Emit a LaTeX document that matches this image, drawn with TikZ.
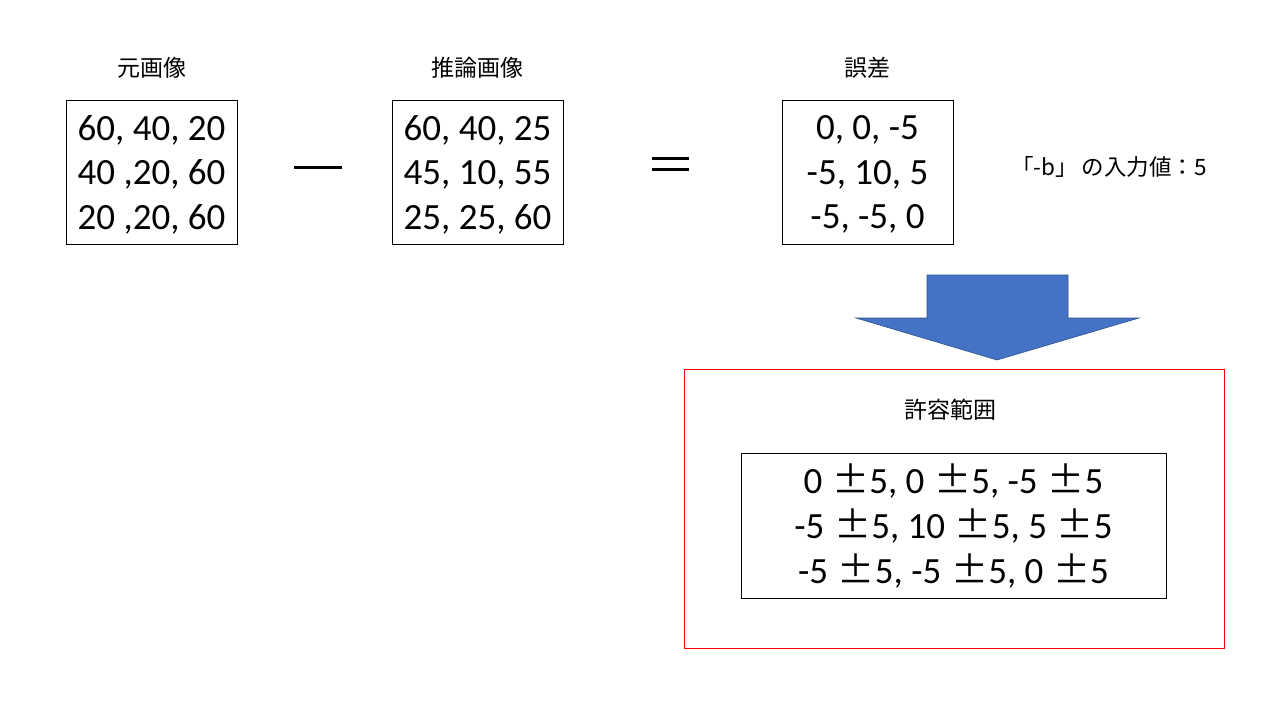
\documentclass[tikz,border=0pt]{standalone}
\usepackage{fontspec}
\setmainfont{Carlito}
\newfontfamily\jp{Noto Sans CJK JP}
\newfontfamily\jpfw[RawFeature=+fwid]{Noto Sans CJK JP}
\definecolor{arrowblue}{HTML}{4472C4}
\definecolor{arrowedge}{HTML}{2F528F}
\begin{document}
\begin{tikzpicture}[x=1pt,y=-1pt,
  matbox/.style={draw=black, line width=1pt, minimum width=171pt, minimum height=144pt, inner sep=0pt},
  mattext/.style={inner sep=0pt, align=center, font={\fontsize{37}{44.5}\selectfont}},
  bigbox/.style={draw=black, line width=1pt, minimum width=425pt, minimum height=145pt, inner sep=0pt, align=center, font={\fontsize{37}{45}\selectfont}},
  jplabel/.style={font={\jp\fontsize{23}{28}\selectfont}, inner sep=0pt},
  sidelabel/.style={font={\jp\fontsize{22.5}{26}\selectfont}, inner sep=0pt}]
\fill[white] (0,0) rectangle (1280,720);
\useasboundingbox (0,0) rectangle (1280,720);

\node[jplabel] (l1) at (151.5,68) {元画像};
\node[jplabel] (l2) at (477.5,68) {推論画像};
\node[jplabel] (l3) at (867.5,68) {誤差};

\node[matbox] (m1) at (151.5,172) {};
\node[matbox] (m2) at (477.5,172) {};
\node[matbox] (m3) at (867.5,172) {};
\node[mattext] (t1) at ([yshift=-2.5pt]m1.center) {60, 40, 20\\40 ,20, 60\\20 ,20, 60};
\node[mattext] (t2) at ([yshift=-2.5pt]m2.center) {60, 40, 25\\45, 10, 55\\25, 25, 60};
\node[mattext] (t3) at ([yshift=-2.5pt]m3.center) {0, 0, -5\\-5, 10, 5\\-5, -5, 0};

\node[inner sep=0pt] (minus) at (318,167) {\rule{48pt}{3pt}};
\node[inner sep=0pt] (eq) at (670.5,163.5) {\vbox{\hrule width 37pt height 3pt\vskip 8pt\hrule width 37pt height 3pt}};

\node[sidelabel] (side) at (1109,167) {「-b」\,の入力値：5};

\fill[arrowblue, draw=arrowedge, line width=0.6pt]
  (927,275) -- (1068,275) -- (1068,318) -- (1139,318) -- (997,360) -- (856,318) -- (927,318) -- cycle;

\node[draw=red, line width=1pt, minimum width=540pt, minimum height=279pt, inner sep=0pt] (range) at (954,508.5) {};
\node[jplabel] (l4) at (950,410) {許容範囲};
\def\pmx{\hspace{1.5pt}{\jpfw ±}}
\node[bigbox] (m4) at (953.5,525.5) {0 \pmx5, 0 \pmx5, -5 \pmx5\\-5 \pmx5, 10 \pmx5, 5 \pmx5\\-5 \pmx5, -5 \pmx5, 0 \pmx5};
\end{tikzpicture}
\end{document}
